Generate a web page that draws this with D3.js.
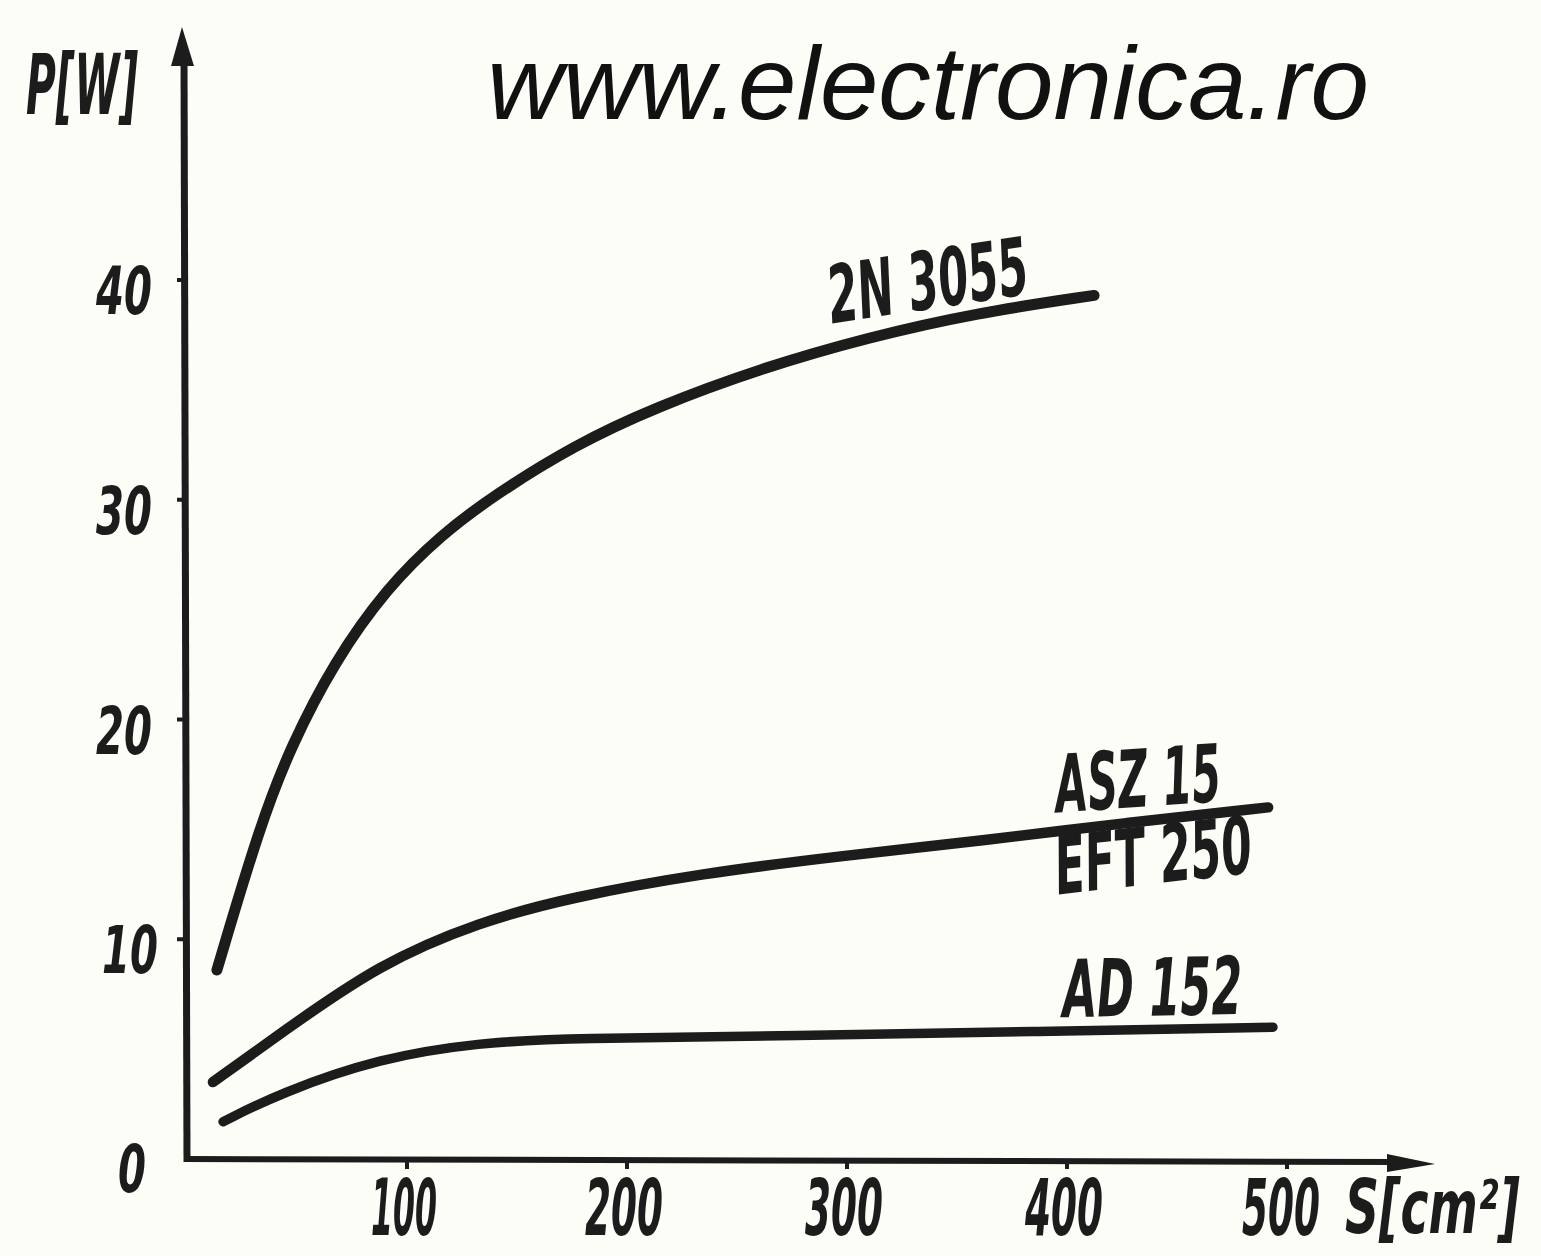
<!DOCTYPE html>
<html>
<head>
<meta charset="utf-8">
<script src="https://cdn.jsdelivr.net/npm/d3@7/dist/d3.min.js"></script>
<style>
  html, body { margin: 0; padding: 0; background: #fdfdf8; }
  svg { display: block; }
  .hand { font-family: "DejaVu Sans Condensed", "DejaVu Sans", sans-serif; font-style: italic; font-stretch: condensed; font-weight: bold; fill: #1c1c1c; }
  .watermark { font-family: "Liberation Sans", Arial, sans-serif; font-style: italic; fill: #111; }
</style>
</head>
<body>
<svg id="chart" width="1541" height="1256"></svg>
<script>
// values: S [cm2] -> P [W]
var S_2N3055 = [13.6, 33.2, 47.3, 66.8, 90.9, 115.5, 139.5, 176.4, 212.7, 261.4, 310, 358.6, 412.3];
var P_2N3055 = [8.6, 15.2, 18.8, 22.6, 26.0, 28.4, 30.2, 32.5, 34.2, 36.0, 37.4, 38.5, 39.3];

var S_ASZ15 = [11.8, 42.3, 87.7, 133.2, 174, 234, 298, 362.7, 426.8, 491.4];
var P_ASZ15 = [3.5, 5.7, 8.9, 10.8, 11.9, 13.0, 13.8, 14.5, 15.3, 16.0];

var S_AD152 = [16.4, 42.3, 87.7, 133, 174, 276.8, 384, 493.6];
var P_AD152 = [1.7, 3.0, 4.6, 5.3, 5.5, 5.6, 5.8, 6.0];

var X_TICKS = [100, 200, 300, 400, 500];
var Y_TICKS = [0, 10, 20, 30, 40];

var X_TITLE = "S[cm²]";
var Y_TITLE = "P[W]";
var WATERMARK = "www.electronica.ro";

var INK = "#1c1c1c";

var svg = d3.select("#chart");

var x = d3.scaleLinear().domain([0, 500]).range([187, 1287]);
var y = d3.scaleLinear().domain([0, 40]).range([1159, 280]);

function zip(xs, ys) {
    return xs.map(function (s, i) { return { s: s, p: ys[i] }; });
}

// hand-lettered text: squeeze horizontally to the width seen in the scan
function handText(str, px, py, size, width, anchor, angle) {
    var t = svg.append("text").attr("class", "hand")
        .attr("font-size", size)
        .attr("text-anchor", anchor || "start")
        .text(str);
    var k = width / t.node().getComputedTextLength();
    t.attr("transform", "translate(" + px + "," + py + ") rotate(" + (angle || 0) + ") scale(" + k + ",1)");
    return t;
}

// watermark
svg.append("text").attr("class", "watermark")
    .attr("x", 487).attr("y", 119)
    .attr("font-size", 104)
    .attr("textLength", 882).attr("lengthAdjust", "spacingAndGlyphs")
    .text(WATERMARK);

// axes, drawn like the hand-inked original
var x0 = x(0), y0 = y(0);

svg.append("line")
    .attr("x1", x0).attr("y1", y0 + 3).attr("x2", x0 - 3).attr("y2", 55)
    .attr("stroke", INK).attr("stroke-width", 7);
svg.append("path")
    .attr("d", "M" + (x0 - 5) + ",27 L" + (x0 + 7) + ",66 L" + (x0 - 16) + ",66 Z")
    .attr("fill", INK);

svg.append("line")
    .attr("x1", x0 - 3).attr("y1", y0).attr("x2", 1400).attr("y2", y0 + 3)
    .attr("stroke", INK).attr("stroke-width", 6);
svg.append("path")
    .attr("d", "M1435," + (y0 + 5) + " L1387," + (y0 - 5) + " L1387," + (y0 + 13) + " Z")
    .attr("fill", INK);

// y ticks + labels
svg.append("g").selectAll("line").data(Y_TICKS.filter(function (d) { return d > 0; }))
    .enter().append("line")
    .attr("x1", x0 - 10).attr("x2", x0)
    .attr("y1", function (d) { return y(d); }).attr("y2", function (d) { return y(d); })
    .attr("stroke", INK).attr("stroke-width", 4);

Y_TICKS.forEach(function (d) {
    var right = d === 0 ? 146 : (d === 10 ? 158 : 152);
    handText(String(d), right, y(d) + (d === 0 ? 33 : 34), 66, d === 0 ? 28 : 56, "end");
});

// x ticks + labels
svg.append("g").selectAll("line").data(X_TICKS)
    .enter().append("line")
    .attr("x1", function (d) { return x(d); }).attr("x2", function (d) { return x(d); })
    .attr("y1", y0).attr("y2", y0 + 10)
    .attr("stroke", INK).attr("stroke-width", 4);

X_TICKS.forEach(function (d) {
    handText(String(d), x(d) - (d === 500 ? 6 : 3), y0 + 76, 78, d === 100 ? 66 : 78, "middle");
});

// axis titles
handText(X_TITLE, 1345, y0 + 74, 74, 175, "start");
handText(Y_TITLE, 26, 114, 84, 112, "start");

// curves
var line = d3.line()
    .x(function (d) { return x(d.s); })
    .y(function (d) { return y(d.p); })
    .curve(d3.curveBasis);

var series = [
    { name: "2N 3055", data: zip(S_2N3055, P_2N3055), width: 11 },
    { name: "ASZ 15", data: zip(S_ASZ15, P_ASZ15), width: 10.5 },
    { name: "AD 152", data: zip(S_AD152, P_AD152), width: 9.5 }
];

svg.append("g").selectAll("path").data(series)
    .enter().append("path")
    .attr("d", function (d) { return line(d.data); })
    .attr("fill", "none")
    .attr("stroke", INK)
    .attr("stroke-width", function (d) { return d.width; })
    .attr("stroke-linecap", "round");

// curve labels, placed off each curve's last point
function curveLabel(text, last, dx, dy, angle, len) {
    handText(text, x(last.s) + dx, y(last.p) + dy, 80, len, "start", angle);
}

var end2N = series[0].data[series[0].data.length - 1];
var endASZ = series[1].data[series[1].data.length - 1];
var endAD = series[2].data[series[2].data.length - 1];

curveLabel("2N 3055", end2N, -262, 28, -8.6, 202);
curveLabel("ASZ 15", endASZ, -211, 5, -3.9, 166);
curveLabel("EFT 250", endASZ, -210, 87, -6.4, 198);
curveLabel("AD 152", endAD, -210, -10, -1, 180);
</script>
</body>
</html>
